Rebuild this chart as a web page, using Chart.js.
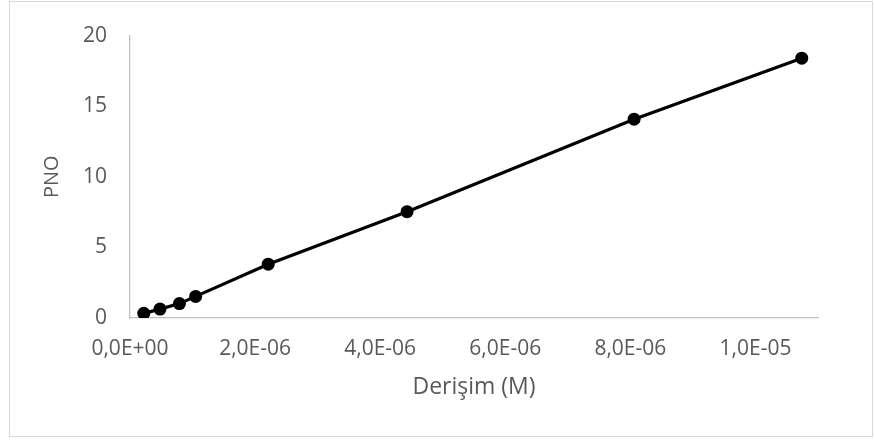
<!DOCTYPE html>
<html>
<head>
<meta charset="utf-8">
<style>
  html, body { margin: 0; padding: 0; background: #ffffff; }
  #wrap { position: relative; width: 874px; height: 441px; }
</style>
<script src="https://cdn.jsdelivr.net/npm/chart.js@4.4.1/dist/chart.umd.min.js"></script>
</head>
<body>
<div id="wrap"><canvas id="c" width="874" height="441"></canvas></div>
<script>
// Data
const concentrations = [0.22e-6, 0.48e-6, 0.79e-6, 1.05e-6, 2.21e-6, 4.43e-6, 8.06e-6, 10.74e-6];
const pnoValues = [0.33, 0.63, 1.02, 1.53, 3.81, 7.53, 14.08, 18.4];
const xTickValues = [0, 2e-6, 4e-6, 6e-6, 8e-6, 1e-5];
const yTickValues = [0, 5, 10, 15, 20];
const xTitle = 'Derişim (M)';
const yTitle = 'PNO';

function sciLabel(v) {
  if (Math.abs(v) < 1e-15) return '0,0E+00';
  let e = Math.floor(Math.log10(Math.abs(v)) + 1e-9);
  let m = v / Math.pow(10, e);
  let ms = m.toFixed(1);
  if (ms === '10.0') { e += 1; ms = '1.0'; }
  const es = String(Math.abs(e)).padStart(2, '0');
  return ms.replace('.', ',') + 'E' + (e < 0 ? '-' : '+') + es;
}

const points = concentrations.map((x, i) => ({ x: x, y: pnoValues[i] }));

const framePlugin = {
  id: 'frame',
  beforeDraw(chart) {
    const ctx = chart.ctx;
    ctx.save();
    ctx.fillStyle = '#ffffff';
    ctx.fillRect(0, 0, chart.width, chart.height);
    ctx.strokeStyle = '#d9d9d9';
    ctx.lineWidth = 1;
    ctx.strokeRect(9.5, 1.5, 863, 435);
    ctx.restore();
  }
};

const textColor = '#595959';
const axisColor = '#bfbfbf';
const fontFamily = '"Open Sans", "Noto Sans", sans-serif';

new Chart(document.getElementById('c'), {
  type: 'scatter',
  data: {
    datasets: [{
      data: points,
      showLine: true,
      borderColor: '#000000',
      backgroundColor: '#000000',
      borderWidth: 3.2,
      pointRadius: 6.5,
      pointHoverRadius: 6.5,
      pointBorderWidth: 0,
      tension: 0
    }]
  },
  options: {
    responsive: false,
    animation: false,
    layout: { padding: { left: 0, top: 31, right: 56, bottom: 0 } },
    plugins: { legend: { display: false }, tooltip: { enabled: false } },
    scales: {
      x: {
        type: 'linear',
        min: 0,
        max: 1.1e-5,
        afterBuildTicks(scale) {
          scale.ticks = xTickValues.map(v => ({ value: v }));
        },
        afterFit(scale) { scale.height = 441 - 318; },
        grid: { display: false, drawTicks: false },
        border: { display: true, color: axisColor, width: 1.3 },
        ticks: {
          color: textColor,
          font: { family: fontFamily, size: 21 },
          padding: 18,
          maxRotation: 0,
          autoSkip: false,
          callback: (v) => sciLabel(v)
        },
        title: {
          display: true,
          text: xTitle,
          color: textColor,
          font: { family: fontFamily, size: 23 },
          padding: { top: 0, bottom: 40 }
        }
      },
      y: {
        type: 'linear',
        min: 0,
        max: 20,
        afterBuildTicks(scale) {
          scale.ticks = yTickValues.map(v => ({ value: v }));
        },
        afterFit(scale) { scale.width = 130; },
        grid: { display: false, drawTicks: false },
        border: { display: true, color: axisColor, width: 1.3 },
        ticks: {
          color: textColor,
          font: { family: fontFamily, size: 21 },
          padding: 23
        },
        title: {
          display: true,
          text: yTitle,
          color: textColor,
          font: { family: fontFamily, size: 20 },
          padding: { top: 40, bottom: 0 }
        }
      }
    }
  },
  plugins: [framePlugin]
});
</script>
</body>
</html>
